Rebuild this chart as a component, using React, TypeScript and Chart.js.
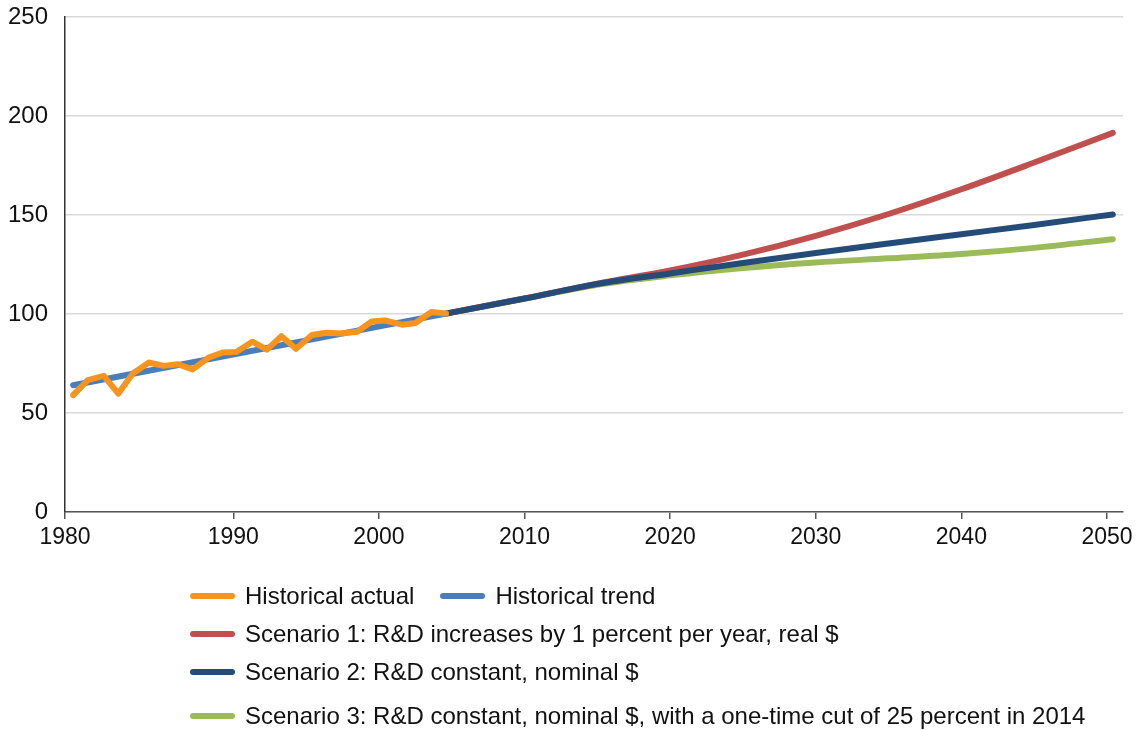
import React, { useEffect, useRef } from 'react';
import { Chart, registerables } from 'chart.js';

Chart.register(...registerables);

// ---- Data ----
const actualYears = [1979.0, 1980.0, 1981.1, 1982.1, 1983.1, 1984.2, 1985.2, 1986.2, 1987.2, 1988.3, 1989.3, 1990.2, 1991.3, 1992.3, 1993.3, 1994.3, 1995.4, 1996.4, 1997.4, 1998.5, 1999.5, 2000.4, 2001.6, 2002.5, 2003.6, 2004.6];
const actualValues = [59, 66.6, 68.8, 59.8, 70, 75.5, 73.8, 74.6, 72, 78, 80.6, 80.8, 86, 82, 88.8, 82.4, 89.4, 90.5, 90.1, 91, 96.2, 96.7, 94.6, 95.5, 101, 100.2];

const trendYears = [1979.0, 2004.6];
const trendValues = [64.0, 100.2];

const scenarioYears = [2004.6, 2010, 2015, 2020, 2025, 2030, 2035, 2040, 2045, 2050.4];
const scenario1Values = [100.2, 107.9, 115.3, 122, 130, 139.5, 150.5, 163, 176.5, 191.5];
const scenario2Values = [100.2, 107.8, 115.2, 120.5, 125.8, 130.8, 135.6, 140.3, 145, 150.3];
const scenario3Values = [100.2, 107.7, 114.8, 119.5, 123.2, 126, 128.1, 130.3, 133.4, 137.8];

const xMin = 1978.44;
const xMax = 2051.1;
const xTickValues = [xMin, 1990, 2000, 2010, 2020, 2030, 2040, 2050];
const xTickLabels = ['1980', '1990', '2000', '2010', '2020', '2030', '2040', '2050'];
const yTickValues = [0, 50, 100, 150, 200, 250];

const seriesLabels = [
  'Historical actual',
  'Historical trend',
  'Scenario 1: R&D increases by 1 percent per year, real $',
  'Scenario 2: R&D constant, nominal $',
  'Scenario 3: R&D constant, nominal $, with a one-time cut of 25 percent in 2014',
];
const seriesColors = ['#F7941E', '#4A7EBB', '#C0504D', '#254C79', '#9BBB59'];
const legendRows = [[0, 1], [2], [3], [4]];

const FONT = "'Liberation Sans', Arial, Helvetica, sans-serif";
const CANVAS_W = 1137;
const CANVAS_H = 560;
const AXIS_BOTTOM = 512;

const toPoints = (xs: number[], ys: number[]) => xs.map((x, i) => ({ x, y: ys[i] }));

export default function App() {
  const canvasRef = useRef<HTMLCanvasElement | null>(null);

  useEffect(() => {
    if (!canvasRef.current) return;
    const common = {
      pointRadius: 0,
      pointHoverRadius: 0,
      fill: false,
      borderCapStyle: 'round' as const,
      borderJoinStyle: 'round' as const,
    };
    const chart = new Chart(canvasRef.current, {
      type: 'line',
      data: {
        datasets: [
          { ...common, label: seriesLabels[0], data: toPoints(actualYears, actualValues), borderColor: seriesColors[0], borderWidth: 6, tension: 0, order: 0 },
          { ...common, label: seriesLabels[1], data: toPoints(trendYears, trendValues), borderColor: seriesColors[1], borderWidth: 6, tension: 0, order: 1 },
          { ...common, label: seriesLabels[2], data: toPoints(scenarioYears, scenario1Values), borderColor: seriesColors[2], borderWidth: 6, cubicInterpolationMode: 'monotone', order: 3 },
          { ...common, label: seriesLabels[3], data: toPoints(scenarioYears, scenario2Values), borderColor: seriesColors[3], borderWidth: 6, cubicInterpolationMode: 'monotone', order: 2 },
          { ...common, label: seriesLabels[4], data: toPoints(scenarioYears, scenario3Values), borderColor: seriesColors[4], borderWidth: 6, cubicInterpolationMode: 'monotone', order: 4 },
        ],
      },
      options: {
        responsive: false,
        animation: false,
        events: [],
        layout: { padding: { left: 0, top: 17, right: 14, bottom: 0 } },
        plugins: { legend: { display: false }, tooltip: { enabled: false } },
        scales: {
          x: {
            type: 'linear',
            min: xMin,
            max: xMax,
            afterBuildTicks: (scale: any) => {
              scale.ticks = xTickValues.map((v) => ({ value: v }));
            },
            afterFit: (scale: any) => {
              scale.height = CANVAS_H - AXIS_BOTTOM;
              scale.paddingLeft = 0;
              scale.paddingRight = 0;
            },
            ticks: {
              autoSkip: false,
              maxRotation: 0,
              padding: 5,
              color: '#111',
              font: { family: FONT, size: 23 },
              callback: (value: any) => {
                const i = xTickValues.indexOf(Number(value));
                return i >= 0 ? xTickLabels[i] : '';
              },
            },
            grid: { drawOnChartArea: false, drawTicks: true, tickLength: 7, color: '#555', lineWidth: 1.5 },
            border: { display: true, color: '#555', width: 1.5 },
          },
          y: {
            type: 'linear',
            min: 0,
            max: 250,
            afterBuildTicks: (scale: any) => {
              scale.ticks = yTickValues.map((v) => ({ value: v }));
            },
            afterFit: (scale: any) => {
              scale.width = 65;
              scale.paddingTop = 0;
              scale.paddingBottom = 0;
            },
            ticks: {
              padding: 17,
              color: '#111',
              font: { family: FONT, size: 24 },
            },
            grid: { drawTicks: false, color: '#d9d9d9', lineWidth: 1.5 },
            border: { display: true, color: '#333', width: 1.5 },
          },
        },
      },
    } as any);
    return () => chart.destroy();
  }, []);

  return (
    <div style={{ position: 'fixed', left: 0, top: 0, width: CANVAS_W, height: 730, background: '#fff', fontFamily: FONT }}>
      <canvas ref={canvasRef} width={CANVAS_W} height={CANVAS_H} style={{ position: 'absolute', left: 0, top: 0 }} />
      <div style={{ position: 'absolute', left: 190, top: 580 }}>
        {legendRows.map((row, ri) => (
          <div key={ri} style={{ display: 'flex', alignItems: 'center', height: 32, marginBottom: ri === 2 ? 12 : 6 }}>
            {row.map((si) => (
              <div key={si} style={{ display: 'flex', alignItems: 'center', marginRight: 26 }}>
                <div style={{ width: 45, height: 6, borderRadius: 3, background: seriesColors[si], marginRight: 10 }} />
                <span style={{ fontSize: 24, color: '#111', whiteSpace: 'nowrap' }}>{seriesLabels[si]}</span>
              </div>
            ))}
          </div>
        ))}
      </div>
    </div>
  );
}
